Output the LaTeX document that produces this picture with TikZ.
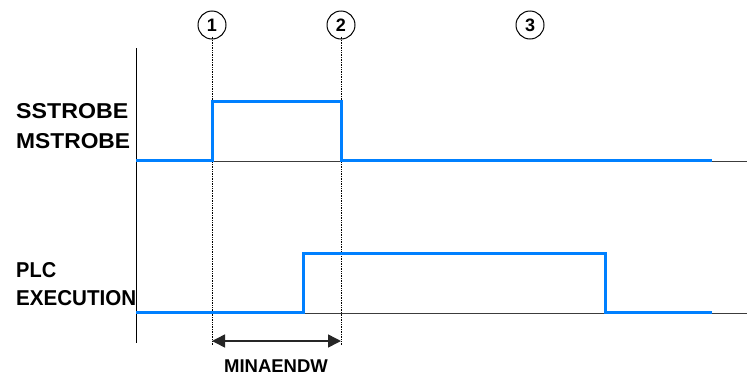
\documentclass[tikz,border=0pt]{standalone}
\usepackage{fontspec}
\setmainfont{Liberation Sans}
\usetikzlibrary{arrows.meta}
\definecolor{sigblue}{RGB}{0,128,255}
\definecolor{baseln}{RGB}{60,60,60}
\tikzset{
  sig/.style={draw=sigblue, line width=3pt, line join=miter},
  baseline/.style={draw=baseln, line width=1pt},
  axisline/.style={draw=black, line width=0.9pt},
  marker/.style={draw=black, line width=0.6pt, dash pattern=on 0.8pt off 0.9pt},
  numcircle/.style={circle, draw=black, line width=1pt, minimum size=28pt, inner sep=0pt, font=\fontsize{18}{20}\selectfont\bfseries},
  siglabel/.style={anchor=base west, inner sep=0pt, font=\fontsize{21.5}{24}\selectfont\bfseries},
  dimlabel/.style={anchor=base, inner sep=0pt, font=\fontsize{18.5}{21}\selectfont\bfseries},
  dimarrow/.style={draw=black!85, line width=1.5pt, {Triangle[length=13pt,width=13pt]}-{Triangle[length=13pt,width=13pt]}}
}
\begin{document}
\begin{tikzpicture}[x=1pt,y=-1pt]
\useasboundingbox (0,0) rectangle (747,378);
% axis
\coordinate (axtop) at (136,48);
\coordinate (axbot) at (136,343);
\draw[axisline] (axtop) -- (axbot);
% baselines
\coordinate (b1s) at (136,161);
\coordinate (b1e) at (747,161);
\coordinate (b2s) at (136,313);
\coordinate (b2e) at (747,313);
\draw[baseline] (b1s) -- (b1e);
\draw[baseline] (b2s) -- (b2e);
% circles
\node[numcircle] (c1) at (212,25) {1};
\node[numcircle] (c2) at (341,25) {2};
\node[numcircle] (c3) at (530,25) {3};
% marker lines
\coordinate (m1) at (212,345);
\coordinate (m2) at (341,345);
\draw[marker] (c1.south) ++(0,-3) -- (m1);
\draw[marker] (c2.south) ++(0,-3) -- (m2);
% SSTROBE signal
\coordinate (s0) at (136,160);
\coordinate (s1) at (212,160);
\coordinate (s2) at (212,101);
\coordinate (s3) at (341,101);
\coordinate (s4) at (341,160);
\coordinate (s5) at (712,160);
\draw[sig] (s0) -- (s1) -- (s2) -- (s3) -- (s4) -- (s5);
% PLC signal
\coordinate (p0) at (136,312);
\coordinate (p1) at (303,312);
\coordinate (p2) at (303,253);
\coordinate (p3) at (605,253);
\coordinate (p4) at (605,312);
\coordinate (p5) at (712,312);
\draw[sig] (p0) -- (p1) -- (p2) -- (p3) -- (p4) -- (p5);
% labels
\node[siglabel] (l1) at (16,118) {\scalebox{1.078}[1]{SSTROBE}};
\node[siglabel] (l2) at (16,148) {\scalebox{1.06}[1]{MSTROBE}};
\node[siglabel] (l3) at (16,277) {\scalebox{0.93}[1]{PLC}};
\node[siglabel] (l4) at (16,305) {\scalebox{0.957}[1]{EXECUTION}};
% dimension
\coordinate (a1) at (212,341);
\coordinate (a2) at (341,341);
\draw[dimarrow] (a1) -- (a2);
\node[dimlabel] (dl) at (276,372) {MINAENDW};
\end{tikzpicture}
\end{document}
